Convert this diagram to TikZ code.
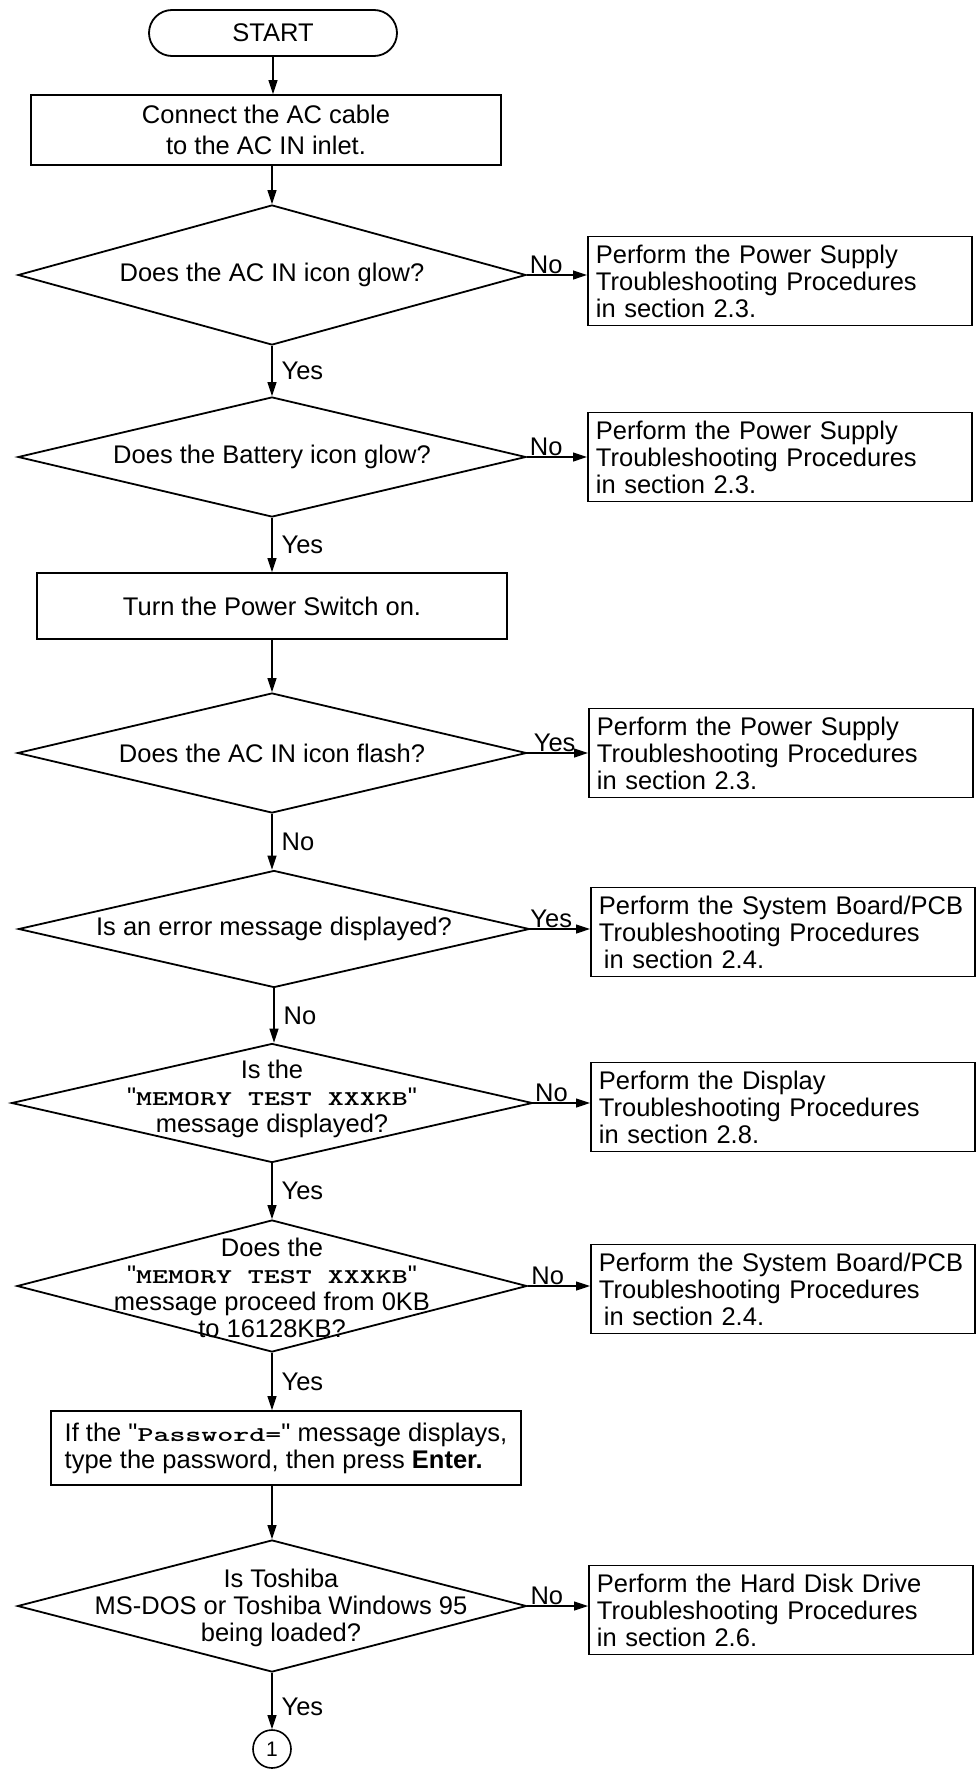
\documentclass[tikz,border=0pt]{standalone}
\usepackage{fontspec}
\usepackage{graphicx}
\setmainfont{Liberation Sans}[Ligatures=TeXOff]
\usetikzlibrary{shapes.geometric,arrows.meta}

% screen messages: wide bold typewriter face
\newcommand\scrmsg[1]{\scalebox{1.45}[1]{\fontsize{21}{21}\selectfont\ttfamily\bfseries #1}}

\begin{document}
\begin{tikzpicture}[x=1pt,y=-1pt,
  every node/.style={font=\fontsize{25.5}{27}\selectfont},
  proc/.style={draw, line width=1.8pt, inner sep=0pt, align=center},
  note/.style={draw, line width=1.9pt, anchor=west, text width=368pt,
    inner xsep=8pt, inner ysep=0pt, minimum height=89pt, align=left},
  decision/.style={draw, diamond, line width=1.8pt, inner sep=0pt},
  dtext/.style={align=center, inner sep=0pt},
  flow/.style={line width=1.2pt, -{Triangle[length=14pt,width=9pt]}},
  lbl/.style={inner sep=1pt}
]
\useasboundingbox (0,0) rectangle (975,1769);

% main column
\node[proc, rounded corners=23pt, minimum width=248pt, minimum height=46pt] (start) at (273,33) {START};
\node[proc, minimum width=470pt, minimum height=70pt] (b1) at (266,130)
  {Connect the AC cable\\[4pt] to the AC IN inlet.};

\node[decision, minimum width=508pt, minimum height=140pt] (d1) at (272,275) {};
\node[dtext] (d1t) at (d1) {Does the AC IN icon glow?};

\node[decision, minimum width=508pt, minimum height=120pt] (d2) at (272,457) {};
\node[dtext] (d2t) at (d2) {Does the Battery icon glow?};

\node[proc, minimum width=470pt, minimum height=66pt] (b2) at (272,606) {Turn the Power Switch on.};

\node[decision, minimum width=509pt, minimum height=120pt] (d3) at (272,753) {};
\node[dtext] (d3t) at (d3) {Does the AC IN icon flash?};

\node[decision, minimum width=511pt, minimum height=117pt] (d4) at (274,929) {};
\node[dtext] (d4t) at (d4) {Is an error message displayed?};

\node[decision, minimum width=521pt, minimum height=119pt] (d5) at (272,1103) {};
\node[dtext] (d5t) at (272,1099) {Is the\\"\scrmsg{MEMORY TEST XXXKB}"\\message displayed?};

\node[decision, minimum width=510pt, minimum height=132pt] (d6) at (272,1286) {};
\node[dtext] (d6t) at (272,1288) {Does the\\"\scrmsg{MEMORY TEST XXXKB}"\\message proceed from 0KB\\to 16128KB?};

\node[proc, minimum width=470pt, minimum height=74pt, align=left] (b3) at (286,1448)
  {If the "\scrmsg{Password=}" message displays,\\type the password, then press \textbf{Enter.}};

\node[decision, minimum width=509pt, minimum height=132pt] (d7) at (272,1606) {};
\node[dtext] (d7t) at (281,1608) {Is Toshiba\\MS-DOS or Toshiba Windows 95\\being loaded?};

\node[draw, circle, line width=1.6pt, minimum size=38pt, inner sep=0pt,
  font=\fontsize{21}{21}\selectfont] (c1) at (272,1749) {1};

% side actions
\node[note] (r1) at (587,281) {Perform the Power Supply\\Troubleshooting Procedures\\in section 2.3.};
\node[note] (r2) at (587,457) {Perform the Power Supply\\Troubleshooting Procedures\\in section 2.3.};
\node[note] (r3) at (588,753) {Perform the Power Supply\\Troubleshooting Procedures\\in section 2.3.};
\node[note] (r4) at (590,932) {Perform the System Board/PCB\\Troubleshooting Procedures\\\hspace*{5pt}in section 2.4.};
\node[note] (r5) at (590,1107) {Perform the Display\\Troubleshooting Procedures\\in section 2.8.};
\node[note] (r6) at (590,1289) {Perform the System Board/PCB\\Troubleshooting Procedures\\\hspace*{5pt}in section 2.4.};
\node[note] (r7) at (588,1610) {Perform the Hard Disk Drive\\Troubleshooting Procedures\\in section 2.6.};

% vertical flow
\draw[flow] (start.south) -- (start.south |- b1.north);
\draw[flow] (d1.north |- b1.south) -- (d1.north);
\draw[flow] (d1.south) -- (d2.north) node[lbl, midway, right, xshift=8pt] (y1) {Yes};
\draw[flow] (d2.south) -- (d2.south |- b2.north) node[lbl, midway, right, xshift=8pt] (y2) {Yes};
\draw[flow] (d3.north |- b2.south) -- (d3.north);
\draw[flow] (d3.south) -- (d3.south |- d4.north) node[lbl, midway, right, xshift=8pt] (n3) {No};
\draw[flow] (d4.south) -- (d4.south |- d5.north) node[lbl, midway, right, xshift=8pt] (n4) {No};
\draw[flow] (d5.south) -- (d6.north) node[lbl, midway, right, xshift=8pt] (y5) {Yes};
\draw[flow] (d6.south) -- (d6.south |- b3.north) node[lbl, midway, right, xshift=8pt] (y6) {Yes};
\draw[flow] (d7.north |- b3.south) -- (d7.north);
\draw[flow] (d7.south) -- (c1.north) node[lbl, pos=0.6, right, xshift=8pt] (y7) {Yes};

% branches to the side actions
\draw[flow] (d1.east) -- (d1.east -| r1.west) node[lbl, pos=0.32, above] (n1) {No};
\draw[flow] (d2.east) -- (d2.east -| r2.west) node[lbl, pos=0.32, above] (n2) {No};
\draw[flow] (d3.east) -- (d3.east -| r3.west) node[lbl, pos=0.45, above] (y3) {Yes};
\draw[flow] (d4.east) -- (d4.east -| r4.west) node[lbl, pos=0.35, above] (y4) {Yes};
\draw[flow] (d5.east) -- (d5.east -| r5.west) node[lbl, pos=0.32, above] (n5) {No};
\draw[flow] (d6.east) -- (d6.east -| r6.west) node[lbl, pos=0.32, above] (n6) {No};
\draw[flow] (d7.east) -- (d7.east -| r7.west) node[lbl, pos=0.32, above] (n7) {No};
\end{tikzpicture}
\end{document}
